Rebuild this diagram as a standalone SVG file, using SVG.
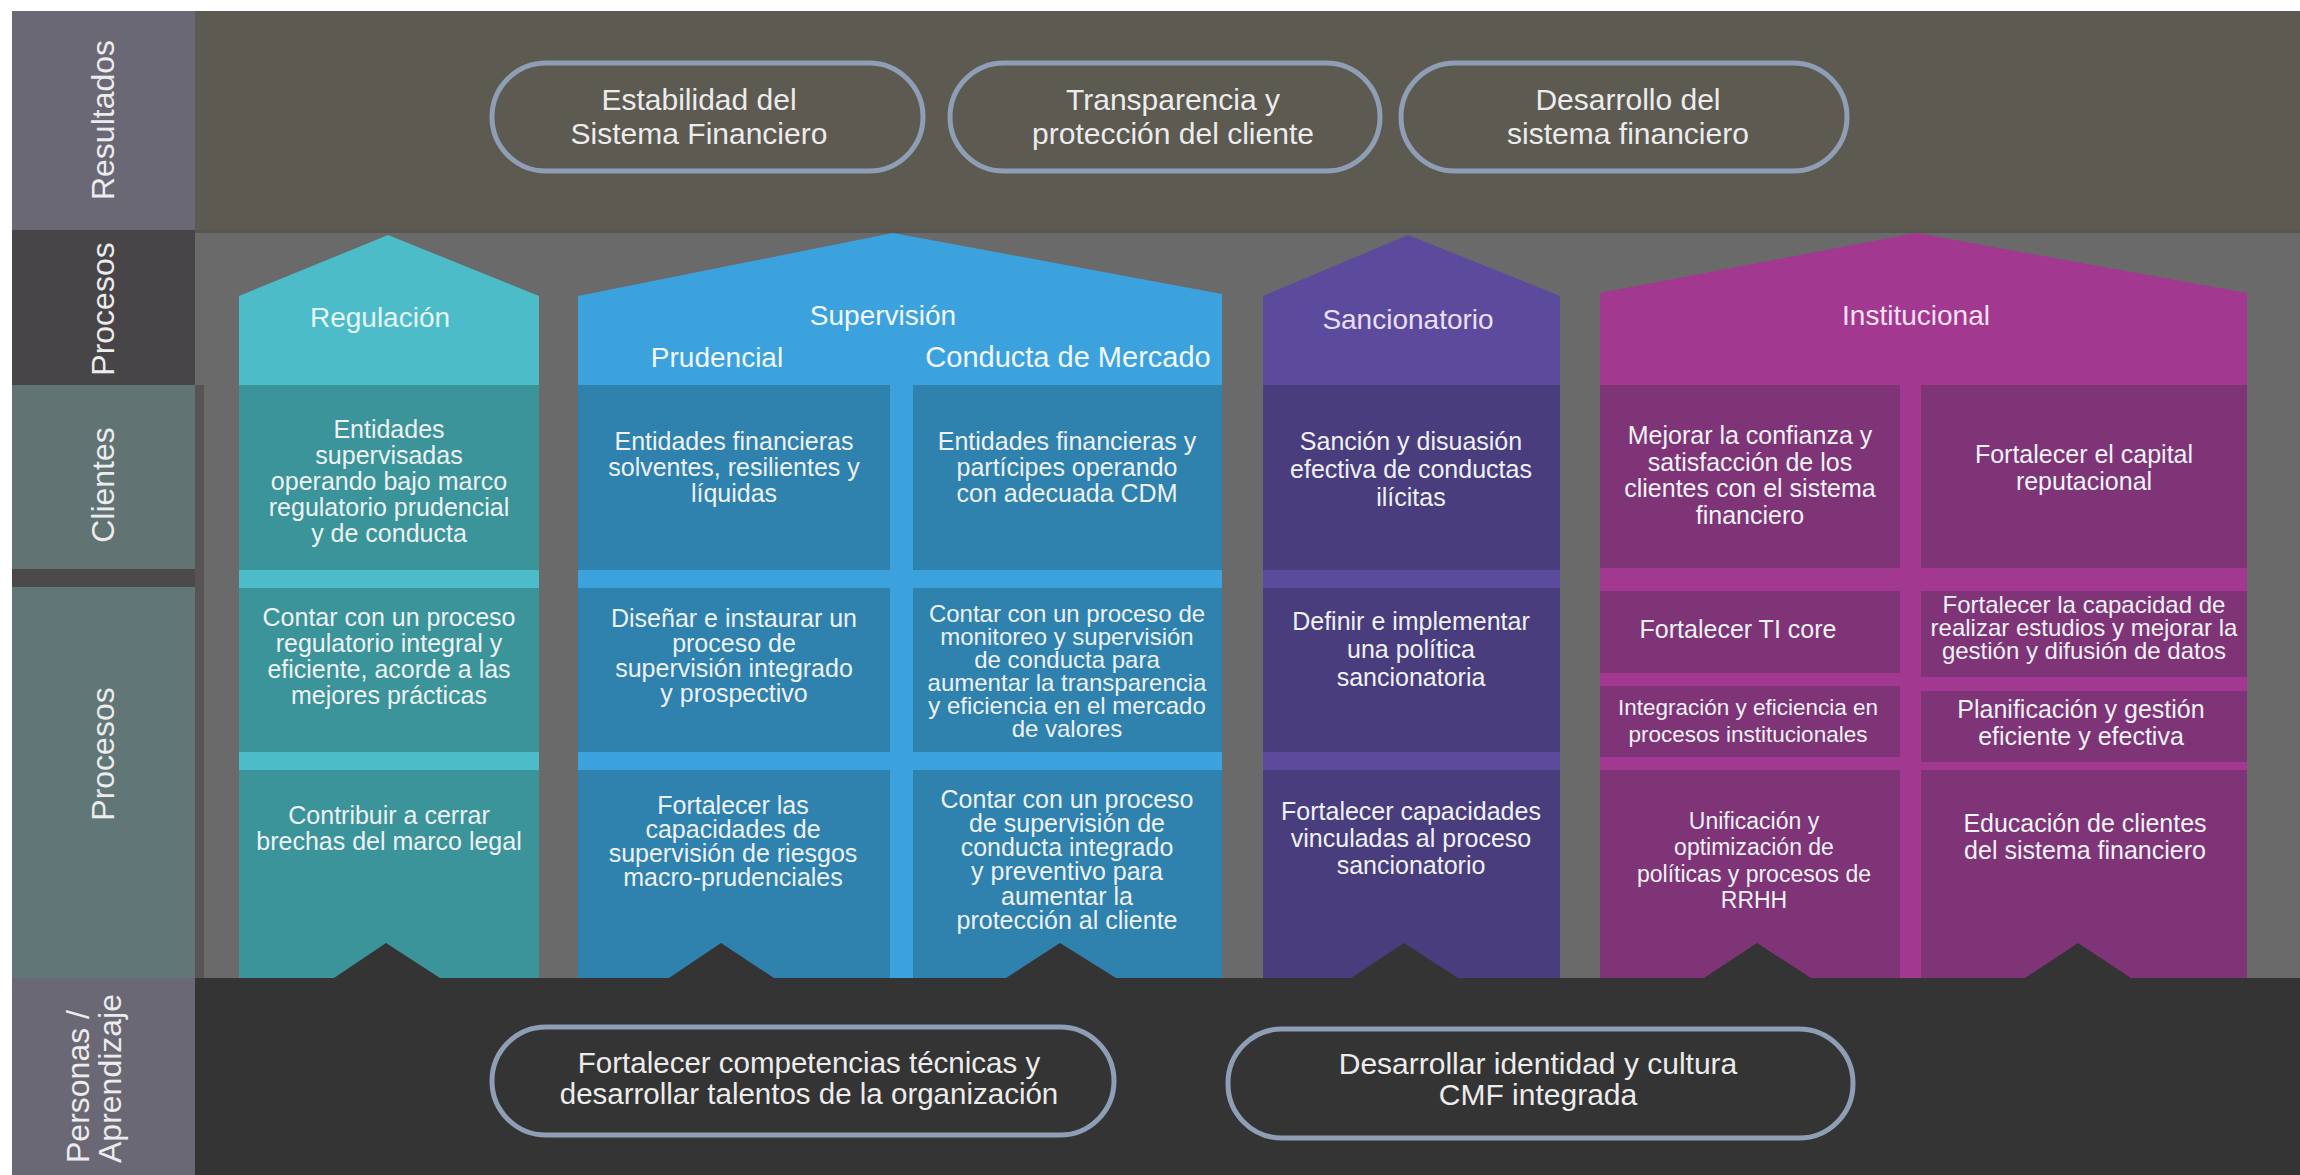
<svg xmlns="http://www.w3.org/2000/svg" width="2300" height="1175" viewBox="0 0 2300 1175">
<style>
text { font-family: "Liberation Sans", Arial, sans-serif; }
.lbl { font-size: 32px; fill: #ececec; }
.hd { font-size: 28px; text-anchor: middle; }
.ct { font-size: 25px; fill: #eef2f4; text-anchor: middle; }
.pt { font-size: 30px; fill: #ececec; text-anchor: middle; }
.pill { fill: none; stroke: #8e9fb5; stroke-width: 5; }
.tri { fill: #353434; }
</style>
<rect x="0" y="0" width="2300" height="1175" fill="#ffffff"/>

<!-- bands -->
<g id="bands">
<rect x="195" y="11" width="2105" height="219" fill="#5d5a52"/>
<rect x="195" y="230" width="2105" height="748" fill="#6b6a6a"/>
<rect x="195" y="230" width="2105" height="3" fill="#585652"/>
<rect x="195" y="385" width="9" height="593" fill="#565455"/>
<rect x="195" y="978" width="2105" height="197" fill="#353434"/>
</g>

<!-- left label column -->
<g id="labels">
<rect x="12" y="11" width="183" height="219" fill="#6b6876"/>
<rect x="12" y="230" width="183" height="155" fill="#474547"/>
<rect x="12" y="385" width="183" height="184" fill="#627373"/>
<rect x="12" y="569" width="183" height="18" fill="#4b4949"/>
<rect x="12" y="587" width="183" height="391" fill="#617676"/>
<rect x="12" y="978" width="183" height="197" fill="#6b6876"/>
<text class="lbl" text-anchor="middle" transform="translate(114,120) rotate(-90)">Resultados</text>
<text class="lbl" text-anchor="middle" transform="translate(114,309) rotate(-90)">Procesos</text>
<text class="lbl" text-anchor="middle" transform="translate(114,485) rotate(-90)">Clientes</text>
<text class="lbl" text-anchor="middle" transform="translate(114,754) rotate(-90)">Procesos</text>
<text class="lbl" transform="translate(89,1163) rotate(-90)">Personas /</text>
<text class="lbl" transform="translate(121,1163) rotate(-90)">Aprendizaje</text>
</g>

<!-- Resultados pills -->
<g id="res-estabilidad">
<rect class="pill" x="492" y="63" width="431" height="108" rx="54"/>
<text class="pt"><tspan x="699" y="110">Estabilidad del</tspan><tspan x="699" y="144">Sistema Financiero</tspan></text>
</g>
<g id="res-transparencia">
<rect class="pill" x="950" y="63" width="430" height="108" rx="54"/>
<text class="pt"><tspan x="1173" y="110">Transparencia y</tspan><tspan x="1173" y="144">protección del cliente</tspan></text>
</g>
<g id="res-desarrollo">
<rect class="pill" x="1401" y="63" width="446" height="108" rx="54"/>
<text class="pt"><tspan x="1628" y="110">Desarrollo del</tspan><tspan x="1628" y="144">sistema financiero</tspan></text>
</g>

<!-- Regulación -->
<g id="regulacion">
<polygon points="239,296 388,235 539,296 539,978 239,978" fill="#4bbcc8"/>
<rect x="239" y="385" width="300" height="185" fill="#3b9499"/>
<rect x="239" y="588" width="300" height="164" fill="#3b9499"/>
<rect x="239" y="770" width="300" height="208" fill="#3b9499"/>
<text class="hd" x="380" y="327" fill="#e8f6f8">Regulación</text>
<text class="ct"><tspan x="389" y="438">Entidades</tspan><tspan x="389" y="464">supervisadas</tspan><tspan x="389" y="490">operando bajo marco</tspan><tspan x="389" y="516">regulatorio prudencial</tspan><tspan x="389" y="542">y de conducta</tspan></text>
<text class="ct"><tspan x="389" y="626">Contar con un proceso</tspan><tspan x="389" y="652">regulatorio integral y</tspan><tspan x="389" y="678">eficiente, acorde a las</tspan><tspan x="389" y="704">mejores prácticas</tspan></text>
<text class="ct"><tspan x="389" y="824">Contribuir a cerrar</tspan><tspan x="389" y="850">brechas del marco legal</tspan></text>
<polygon class="tri" points="334,978 386,943 440,978"/>
</g>

<!-- Supervisión -->
<g id="supervision">
<polygon points="578,296 893,233 1222,294 1222,978 578,978" fill="#3ca2dd"/>
<rect x="578" y="385" width="312" height="185" fill="#2f81ae"/>
<rect x="578" y="588" width="312" height="164" fill="#2f81ae"/>
<rect x="578" y="770" width="312" height="208" fill="#2f81ae"/>
<rect x="913" y="385" width="309" height="185" fill="#2f81ae"/>
<rect x="913" y="588" width="309" height="164" fill="#2f81ae"/>
<rect x="913" y="770" width="309" height="208" fill="#2f81ae"/>
<text class="hd" x="883" y="325" fill="#f2f8fc">Supervisión</text>
<text class="hd" x="717" y="367" fill="#f2f8fc">Prudencial</text>
<text class="hd" x="1068" y="367" fill="#f2f8fc" style="font-size:29px">Conducta de Mercado</text>
<text class="ct"><tspan x="734" y="450">Entidades financieras</tspan><tspan x="734" y="476">solventes, resilientes y</tspan><tspan x="734" y="502">líquidas</tspan></text>
<text class="ct"><tspan x="734" y="627">Diseñar e instaurar un</tspan><tspan x="734" y="652">proceso de</tspan><tspan x="734" y="677">supervisión integrado</tspan><tspan x="734" y="702">y prospectivo</tspan></text>
<text class="ct"><tspan x="733" y="814">Fortalecer las</tspan><tspan x="733" y="838">capacidades de</tspan><tspan x="733" y="862">supervisión de riesgos</tspan><tspan x="733" y="886">macro-prudenciales</tspan></text>
<text class="ct"><tspan x="1067" y="450">Entidades financieras y</tspan><tspan x="1067" y="476">partícipes operando</tspan><tspan x="1067" y="502">con adecuada CDM</tspan></text>
<text class="ct" style="font-size:24px"><tspan x="1067" y="622">Contar con un proceso de</tspan><tspan x="1067" y="645">monitoreo y supervisión</tspan><tspan x="1067" y="668">de conducta para</tspan><tspan x="1067" y="691">aumentar la transparencia</tspan><tspan x="1067" y="714">y eficiencia en el mercado</tspan><tspan x="1067" y="737">de valores</tspan></text>
<text class="ct"><tspan x="1067" y="808">Contar con un proceso</tspan><tspan x="1067" y="832">de supervisión de</tspan><tspan x="1067" y="856">conducta integrado</tspan><tspan x="1067" y="880">y preventivo para</tspan><tspan x="1067" y="905">aumentar la</tspan><tspan x="1067" y="929">protección al cliente</tspan></text>
<polygon class="tri" points="669,978 721,943 774,978"/>
<polygon class="tri" points="1006,978 1060,943 1116,978"/>
</g>

<!-- Sancionatorio -->
<g id="sancionatorio">
<polygon points="1263,296 1408,235 1560,296 1560,978 1263,978" fill="#5c4a9d"/>
<rect x="1263" y="385" width="297" height="185" fill="#4a3d7e"/>
<rect x="1263" y="588" width="297" height="164" fill="#4a3d7e"/>
<rect x="1263" y="770" width="297" height="208" fill="#4a3d7e"/>
<text class="hd" x="1408" y="329" fill="#e8e0f4">Sancionatorio</text>
<text class="ct"><tspan x="1411" y="450">Sanción y disuasión</tspan><tspan x="1411" y="478">efectiva de conductas</tspan><tspan x="1411" y="506">ilícitas</tspan></text>
<text class="ct"><tspan x="1411" y="630">Definir e implementar</tspan><tspan x="1411" y="658">una política</tspan><tspan x="1411" y="686">sancionatoria</tspan></text>
<text class="ct"><tspan x="1411" y="820">Fortalecer capacidades</tspan><tspan x="1411" y="847">vinculadas al proceso</tspan><tspan x="1411" y="874">sancionatorio</tspan></text>
<polygon class="tri" points="1351,978 1404,943 1458,978"/>
</g>

<!-- Institucional -->
<g id="institucional">
<polygon points="1600,293 1916,233 2247,293 2247,978 1600,978" fill="#a2388f"/>
<rect x="1600" y="385" width="300" height="183" fill="#7e3477"/>
<rect x="1600" y="591" width="300" height="82" fill="#7e3477"/>
<rect x="1600" y="686" width="300" height="71" fill="#7e3477"/>
<rect x="1600" y="770" width="300" height="208" fill="#7e3477"/>
<rect x="1921" y="385" width="326" height="183" fill="#7e3477"/>
<rect x="1921" y="591" width="326" height="86" fill="#7e3477"/>
<rect x="1921" y="691" width="326" height="71" fill="#7e3477"/>
<rect x="1921" y="770" width="326" height="208" fill="#7e3477"/>
<text class="hd" x="1916" y="325" fill="#f6e2f1">Institucional</text>
<text class="ct"><tspan x="1750" y="444">Mejorar la confianza y</tspan><tspan x="1750" y="471">satisfacción de los</tspan><tspan x="1750" y="497">clientes con el sistema</tspan><tspan x="1750" y="524">financiero</tspan></text>
<text class="ct"><tspan x="2084" y="463">Fortalecer el capital</tspan><tspan x="2084" y="490">reputacional</tspan></text>
<text class="ct"><tspan x="1738" y="638">Fortalecer TI core</tspan></text>
<text class="ct" style="font-size:24px"><tspan x="2084" y="613">Fortalecer la capacidad de</tspan><tspan x="2084" y="636">realizar estudios y mejorar la</tspan><tspan x="2084" y="659">gestión y difusión de datos</tspan></text>
<text class="ct" style="font-size:22.5px"><tspan x="1748" y="715">Integración y eficiencia en</tspan><tspan x="1748" y="742">procesos institucionales</tspan></text>
<text class="ct"><tspan x="2081" y="718">Planificación y gestión</tspan><tspan x="2081" y="745">eficiente y efectiva</tspan></text>
<text class="ct" style="font-size:23px"><tspan x="1754" y="829">Unificación y</tspan><tspan x="1754" y="855">optimización de</tspan><tspan x="1754" y="882">políticas y procesos de</tspan><tspan x="1754" y="908">RRHH</tspan></text>
<text class="ct"><tspan x="2085" y="832">Educación de clientes</tspan><tspan x="2085" y="859">del sistema financiero</tspan></text>
<polygon class="tri" points="1704,978 1757,943 1811,978"/>
<polygon class="tri" points="2025,978 2078,943 2131,978"/>
</g>

<!-- Personas / Aprendizaje pills -->
<g id="per-competencias">
<rect class="pill" x="492" y="1027" width="622" height="108" rx="54"/>
<text class="pt" style="font-size:29.5px"><tspan x="809" y="1073">Fortalecer competencias técnicas y</tspan><tspan x="809" y="1104">desarrollar talentos de la organización</tspan></text>
</g>
<g id="per-identidad">
<rect class="pill" x="1228" y="1029" width="625" height="109" rx="54"/>
<text class="pt"><tspan x="1538" y="1074">Desarrollar identidad y cultura</tspan><tspan x="1538" y="1105">CMF integrada</tspan></text>
</g>

<g id="connectors"></g>
</svg>
